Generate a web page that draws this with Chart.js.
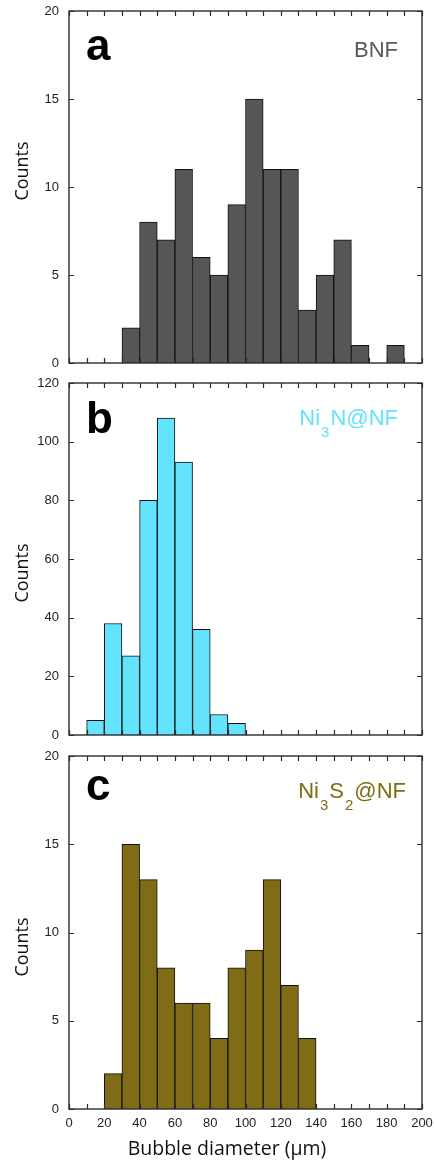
<!DOCTYPE html>
<html>
<head>
<meta charset="utf-8">
<script src="https://cdn.jsdelivr.net/npm/chart.js@4/dist/chart.umd.min.js"></script>
<style>
  body { margin: 0; background: #fff; }
  canvas { display: block; }
</style>
</head>
<body>
<canvas id="chartA" width="434" height="372"></canvas>
<canvas id="chartB" width="434" height="374"></canvas>
<canvas id="chartC" width="434" height="416"></canvas>
<script>
// histogram bins (um), 10 wide
const binStart = [0, 10, 20, 30, 40, 50, 60, 70, 80, 90, 100, 110, 120, 130, 140, 150, 160, 170, 180, 190];
const binWidth = 10;

const countsBNF   = [0, 0, 0, 2, 8, 7, 11, 6, 5, 9, 15, 11, 11, 3, 5, 7, 1, 0, 1, 0];
const countsNi3N  = [0, 5, 38, 27, 80, 108, 93, 36, 7, 4, 0, 0, 0, 0, 0, 0, 0, 0, 0, 0];
const countsNi3S2 = [0, 0, 2, 15, 13, 8, 6, 6, 4, 8, 9, 13, 7, 4, 0, 0, 0, 0, 0, 0];

const xTicks = [0, 20, 40, 60, 80, 100, 120, 140, 160, 180, 200];
const yTicksSmall = [0, 5, 10, 15, 20];
const yTicksBig = [0, 20, 40, 60, 80, 100, 120];

const SANS = '"Liberation Sans", Arial, sans-serif';
const TITLE_FONT = '"Open Sans", sans-serif';
const frameColor = '#2b2b2b';

// frame, inward ticks, panel letter, sample label, axis titles
const framePlugin = {
  id: 'frame',
  afterDatasetsDraw(chart, args, opts) {
    const { ctx, chartArea: a, scales: { x, y } } = chart;
    ctx.save();
    ctx.strokeStyle = frameColor;
    ctx.lineWidth = 1.2;
    ctx.beginPath();
    binStart.concat([200]).forEach(v => {
      const px = Math.round(x.getPixelForValue(v)) + 0.5;
      ctx.moveTo(px, a.top); ctx.lineTo(px, a.top + 5);
      ctx.moveTo(px, a.bottom); ctx.lineTo(px, a.bottom - 5);
    });
    y.ticks.forEach(t => {
      const py = Math.round(y.getPixelForValue(t.value)) + 0.5;
      ctx.moveTo(a.left, py); ctx.lineTo(a.left + 5, py);
      ctx.moveTo(a.right, py); ctx.lineTo(a.right - 5, py);
    });
    ctx.stroke();
    ctx.lineWidth = 1.4;
    ctx.strokeRect(a.left, a.top, a.width, a.height);

    // panel letter
    ctx.fillStyle = '#000';
    ctx.font = 'bold 44px ' + SANS;
    ctx.textAlign = 'left';
    ctx.textBaseline = 'alphabetic';
    ctx.fillText(opts.letter, a.left + 17, a.top + opts.letterY);

    // sample name with subscripts, right aligned
    const mainFont = '22px ' + SANS, subFont = '15px ' + SANS;
    let total = 0;
    opts.label.forEach(s => { ctx.font = s.sub ? subFont : mainFont; total += ctx.measureText(s.t).width + (s.sub ? 2 : 0); });
    let cx = opts.labelRight - total;
    ctx.fillStyle = opts.labelColor;
    opts.label.forEach(s => {
      ctx.font = s.sub ? subFont : mainFont;
      const yy = a.top + opts.labelY + (s.sub ? 12 : 0);
      if (s.sub) cx += 1;
      ctx.fillText(s.t, cx, yy);
      cx += ctx.measureText(s.t).width + (s.sub ? 1 : 0);
    });

    // x title (bottom panel only)
    if (opts.xTitle) {
      ctx.fillStyle = '#111';
      ctx.font = '19.5px ' + TITLE_FONT;
      ctx.textAlign = 'center';
      ctx.fillText(opts.xTitle, 227, a.bottom + 46);
    }

    // y title
    ctx.translate(23, a.top + opts.countsY);
    ctx.rotate(-Math.PI / 2);
    ctx.fillStyle = '#111';
    ctx.font = '18px ' + TITLE_FONT;
    ctx.textAlign = 'center';
    ctx.textBaseline = 'middle';
    ctx.fillText('Counts', 0, 0);
    ctx.restore();
  }
};

function makePanel(id, counts, color, yTicks, frameOpts, showX, bottomPad) {
  const data = binStart.map((b, i) => ({ x: b + binWidth / 2, y: counts[i] }));
  new Chart(document.getElementById(id), {
    type: 'bar',
    data: {
      datasets: [{
        data,
        backgroundColor: color,
        borderColor: '#111',
        borderWidth: 1,
        barPercentage: 1,
        categoryPercentage: 1
      }]
    },
    options: {
      responsive: false,
      animation: false,
      events: [],
      layout: { padding: { left: 0, right: 12, top: frameOpts.top, bottom: bottomPad } },
      plugins: { legend: { display: false }, tooltip: { enabled: false }, frame: frameOpts },
      scales: {
        x: {
          type: 'linear',
          display: showX,
          min: 0, max: 200,
          offset: false,
          afterBuildTicks: ax => { ax.ticks = xTicks.map(v => ({ value: v })); },
          afterFit: ax => {
            if (showX) ax.height = 53;
            ax.paddingLeft = 0; ax.paddingRight = 0;
          },
          grid: { display: false, drawTicks: false, offset: false },
          border: { display: false },
          ticks: { padding: 7, color: '#222', font: { family: SANS, size: 13 }, maxRotation: 0 }
        },
        y: {
          min: 0, max: yTicks[yTicks.length - 1],
          afterBuildTicks: ax => { ax.ticks = yTicks.map(v => ({ value: v })); },
          afterFit: ax => {
            ax.width = 69;
            ax.paddingTop = 0; ax.paddingBottom = 0;
          },
          grid: { display: false, drawTicks: false },
          border: { display: false },
          ticks: { padding: 10, color: '#222', font: { family: SANS, size: 13 } }
        }
      }
    },
    plugins: [framePlugin]
  });
}

makePanel('chartA', countsBNF, '#555658', yTicksSmall, {
  top: 11, letter: 'a', letterY: 49, labelRight: 398, labelY: 46, labelColor: '#5a5a5a', countsY: 160,
  label: [{ t: 'BNF' }]
}, false, 9);

makePanel('chartB', countsNi3N, '#63e3fd', yTicksBig, {
  top: 11, letter: 'b', letterY: 50, labelRight: 398, labelY: 42, labelColor: '#63e3fd', countsY: 190,
  label: [{ t: 'Ni' }, { t: '3', sub: true }, { t: 'N@NF' }]
}, false, 11);

makePanel('chartC', countsNi3S2, '#806c16', yTicksSmall, {
  top: 10, letter: 'c', letterY: 44, labelRight: 406, labelY: 42, labelColor: '#806c16', countsY: 191,
  label: [{ t: 'Ni' }, { t: '3', sub: true }, { t: 'S' }, { t: '2', sub: true }, { t: '@NF' }],
  xTitle: 'Bubble diameter (\u03bcm)'
}, true, 0);
</script>
</body>
</html>
